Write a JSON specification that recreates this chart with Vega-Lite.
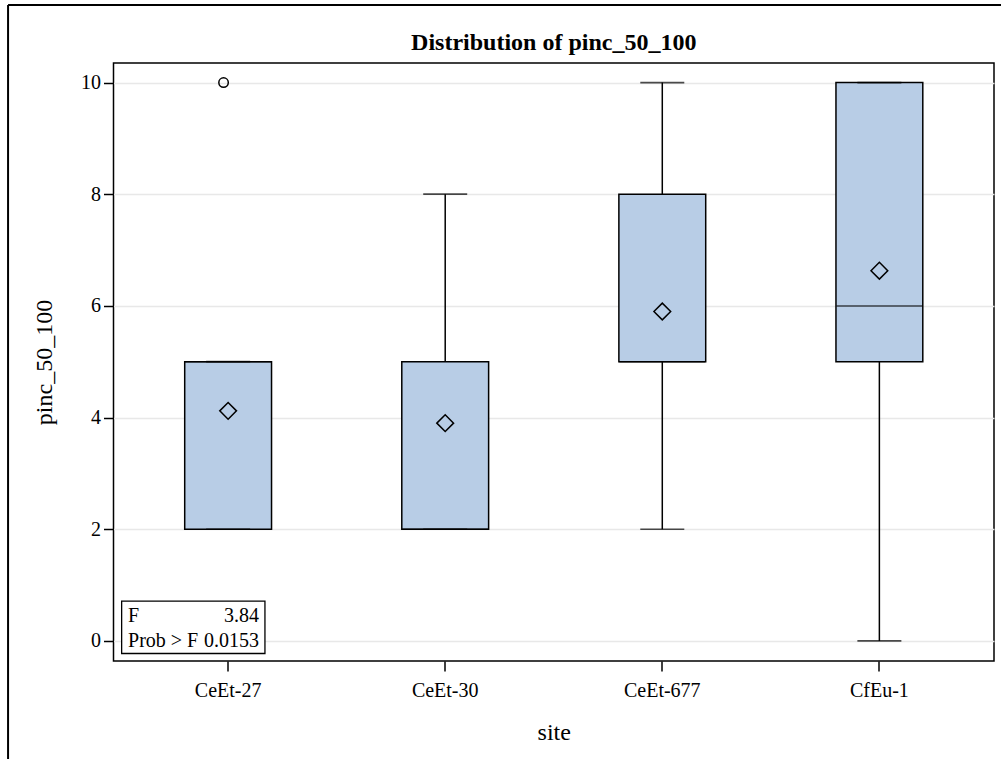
{
  "$schema": "https://vega.github.io/schema/vega-lite/v6.json",
  "autosize": {"type": "none"},
  "padding": {"left": 113.5, "top": 63, "right": 7, "bottom": 98},
  "width": 880.5,
  "height": 598,
  "background": "white",
  "title": {
    "text": "Distribution of pinc_50_100",
    "font": "Liberation Serif",
    "fontSize": 24,
    "fontWeight": "bold",
    "color": "black",
    "anchor": "middle",
    "offset": -51
  },
  "config": {
    "view": {"stroke": "black", "strokeWidth": 1.5},
    "axis": {
      "labelFont": "Liberation Serif",
      "titleFont": "Liberation Serif",
      "labelFontSize": 20,
      "titleFontSize": 24,
      "titleFontWeight": "normal",
      "labelColor": "black",
      "titleColor": "black",
      "tickColor": "black",
      "tickWidth": 1.5,
      "tickSize": 10,
      "domain": false
    }
  },
  "datasets": {
    "boxes": [
      {"site": "CeEt-27", "lo": 2, "q1": 2, "median": 5, "q3": 5, "hi": 5, "mean": 4.12},
      {"site": "CeEt-30", "lo": 2, "q1": 2, "median": 2, "q3": 5, "hi": 8, "mean": 3.9},
      {"site": "CeEt-677", "lo": 2, "q1": 5, "median": 5, "q3": 8, "hi": 10, "mean": 5.9},
      {"site": "CfEu-1", "lo": 0, "q1": 5, "median": 6, "q3": 10, "hi": 10, "mean": 6.63}
    ],
    "outliers": [
      {"site": "CeEt-27", "value": 10}
    ],
    "stats": [
      {"label": "F", "value": "3.84", "row": 0.335},
      {"label": "Prob > F", "value": "0.0153", "row": -0.107}
    ],
    "statsFrame": [
      {"x": 0.037, "x2": 0.688, "y": 0.711, "y2": -0.226}
    ],
    "pageBorder": [
      {"x": -0.479, "x2": 4.04, "y": 11.39, "y2": 11.39},
      {"x": -0.479, "x2": -0.479, "y": 11.39, "y2": -2.3}
    ]
  },
  "resolve": {"scale": {"x": "independent"}},
  "layer": [
    {
      "data": {"name": "boxes"},
      "encoding": {
        "x": {
          "field": "site",
          "type": "nominal",
          "sort": ["CeEt-27", "CeEt-30", "CeEt-677", "CfEu-1"],
          "scale": {"paddingInner": 0.6, "paddingOuter": 0.328},
          "axis": {"title": "site", "labelAngle": 0, "labelPadding": 9, "titlePadding": 20, "grid": false}
        }
      },
      "layer": [
        {
          "mark": {"type": "rule", "color": "black", "strokeWidth": 1.5},
          "encoding": {
            "y": {
              "field": "lo",
              "type": "quantitative",
              "scale": {"domain": [-0.36, 10.35], "nice": false, "zero": false},
              "axis": {
                "title": "pinc_50_100",
                "values": [0, 2, 4, 6, 8, 10],
                "grid": true,
                "gridColor": "#e8e8e8",
                "gridWidth": 1.5,
                "labelPadding": 3,
                "titlePadding": 24
              }
            },
            "y2": {"field": "hi"}
          }
        },
        {
          "mark": {"type": "bar", "fill": "#b8cde6", "stroke": "black", "strokeWidth": 1.5},
          "encoding": {
            "y": {"field": "q1", "type": "quantitative"},
            "y2": {"field": "q3"}
          }
        },
        {
          "mark": {"type": "tick", "color": "black", "thickness": 1.5, "size": 86},
          "encoding": {"y": {"field": "median", "type": "quantitative"}}
        },
        {
          "mark": {"type": "tick", "color": "black", "thickness": 1.7, "size": 44},
          "encoding": {"y": {"field": "lo", "type": "quantitative"}}
        },
        {
          "mark": {"type": "tick", "color": "black", "thickness": 1.7, "size": 44},
          "encoding": {"y": {"field": "hi", "type": "quantitative"}}
        },
        {
          "mark": {"type": "point", "shape": "diamond", "size": 280, "filled": false, "stroke": "black", "strokeWidth": 1.5, "opacity": 1},
          "encoding": {"y": {"field": "mean", "type": "quantitative"}}
        }
      ]
    },
    {
      "data": {"name": "outliers"},
      "mark": {"type": "point", "shape": "circle", "size": 90, "filled": false, "stroke": "black", "strokeWidth": 1.5, "opacity": 1},
      "encoding": {
        "x": {
          "field": "site",
          "type": "nominal",
          "sort": ["CeEt-27", "CeEt-30", "CeEt-677", "CfEu-1"],
          "scale": {"domain": ["CeEt-27", "CeEt-30", "CeEt-677", "CfEu-1"], "paddingInner": 0.6, "paddingOuter": 0.328},
          "axis": null
        },
        "y": {"field": "value", "type": "quantitative"}
      }
    },
    {
      "data": {"name": "statsFrame"},
      "mark": {"type": "rect", "fill": "white", "stroke": "black", "strokeWidth": 1.3},
      "encoding": {
        "x": {"field": "x", "type": "quantitative", "scale": {"domain": [0, 4], "nice": false, "zero": false}, "axis": null},
        "x2": {"field": "x2"},
        "y": {"field": "y", "type": "quantitative"},
        "y2": {"field": "y2"}
      }
    },
    {
      "data": {"name": "stats"},
      "mark": {"type": "text", "align": "left", "baseline": "alphabetic", "font": "Liberation Serif", "fontSize": 20, "color": "black"},
      "encoding": {
        "x": {"datum": 0.066, "type": "quantitative", "scale": {"domain": [0, 4], "nice": false, "zero": false}, "axis": null},
        "y": {"field": "row", "type": "quantitative"},
        "text": {"field": "label"}
      }
    },
    {
      "data": {"name": "stats"},
      "mark": {"type": "text", "align": "right", "baseline": "alphabetic", "font": "Liberation Serif", "fontSize": 20, "color": "black"},
      "encoding": {
        "x": {"datum": 0.661, "type": "quantitative", "scale": {"domain": [0, 4], "nice": false, "zero": false}, "axis": null},
        "y": {"field": "row", "type": "quantitative"},
        "text": {"field": "value"}
      }
    },
    {
      "data": {"name": "pageBorder"},
      "mark": {"type": "rule", "color": "black", "strokeWidth": 2},
      "encoding": {
        "x": {"field": "x", "type": "quantitative", "scale": {"domain": [0, 4], "nice": false, "zero": false}, "axis": null},
        "x2": {"field": "x2"},
        "y": {"field": "y", "type": "quantitative"},
        "y2": {"field": "y2"}
      }
    }
  ]
}
